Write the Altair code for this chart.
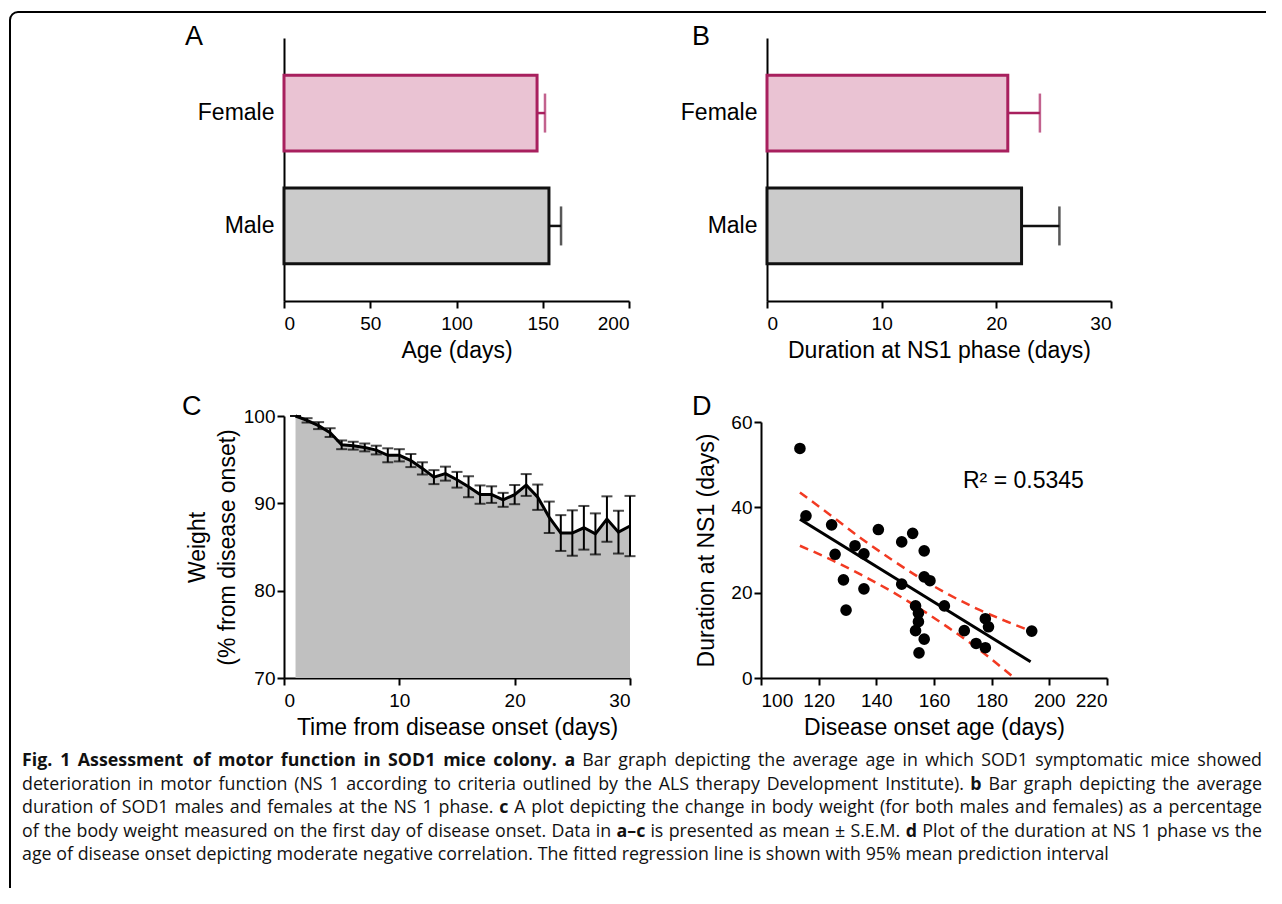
import altair as alt
import pandas as pd

# ---------------- data ----------------
sex = ["Female", "Male"]
onset_age_mean = [146.7, 153.6]
onset_age_sem = [4.6, 7.0]
ns1_days_mean = [21.0, 22.2]
ns1_days_sem = [2.8, 3.3]

days = list(range(1, 31))
weight_pct = [100.0, 99.5, 98.9, 98.1, 96.7, 96.6, 96.4, 96.1, 95.5, 95.5,
              94.9, 94.0, 93.0, 93.4, 92.7, 91.9, 91.0, 91.0, 90.4, 91.0,
              92.1, 90.7, 88.4, 86.6, 86.6, 87.2, 86.5, 88.2, 86.7, 87.4]
weight_sem = [0.0, 0.25, 0.4, 0.5, 0.5, 0.45, 0.45, 0.5, 0.8, 0.7,
              0.75, 0.7, 0.8, 0.8, 0.9, 1.2, 1.05, 0.95, 0.8, 1.1,
              1.25, 1.45, 1.8, 2.05, 2.6, 2.5, 2.35, 2.6, 2.45, 3.45]

onset_age = [113.5, 115.6, 124.5, 125.7, 128.6, 129.5, 132.6, 135.7, 135.7, 140.7,
             148.8, 148.8, 152.6, 156.6, 156.6, 158.6, 153.6, 154.6, 154.6, 153.6,
             156.6, 154.8, 163.6, 170.5, 174.6, 177.8, 177.8, 178.9, 193.9]
ns1_duration = [53.8, 38.0, 35.9, 29.0, 23.0, 15.9, 31.0, 29.1, 20.9, 34.8,
                31.9, 22.0, 33.9, 29.8, 23.7, 22.8, 16.9, 15.2, 13.2, 11.1,
                9.1, 5.9, 16.9, 11.1, 8.1, 7.1, 13.9, 12.0, 11.0]
fit_age = [113.5, 193.5]
fit_duration = [37.2, 3.8]
upper_age = [113.5, 125, 135, 145, 155, 165, 175, 185, 194]
upper_duration = [43.5, 37.7, 32.6, 27.9, 23.5, 19.6, 16.2, 13.3, 10.9]
lower_age = [113.5, 125, 135, 145, 155, 165, 175, 187]
lower_duration = [31.0, 27.5, 24.1, 20.4, 16.3, 11.8, 7.0, 0.5]
r_squared_label = ["R\u00b2 = 0.5345"]
panel_letters = ["A", "B", "C", "D"]

# caption lines; words between ** ** are bold
caption_lines = [
    "**Fig. 1 Assessment of motor function in SOD1 mice colony. a** Bar graph depicting the average age in which SOD1 symptomatic mice showed",
    "deterioration in motor function (NS 1 according to criteria outlined by the ALS therapy Development Institute). **b** Bar graph depicting the average",
    "duration of SOD1 males and females at the NS 1 phase. **c** A plot depicting the change in body weight (for both males and females) as a percentage",
    "of the body weight measured on the first day of disease onset. Data in **a\u2013c** is presented as mean \u00b1 S.E.M. **d** Plot of the duration at NS 1 phase vs the",
    "age of disease onset depicting moderate negative correlation. The fitted regression line is shown with 95% mean prediction interval",
]

# ---------------- style ----------------
FONT = "Liberation Sans"
CAP_FONT = "Open Sans"
CAP_SIZE = 17.8
F_STROKE, M_STROKE = "#a8205e", "#111111"
F_FILL, M_FILL = "#eac3d3", "#cbcbcb"
RED = "#f23a22"


def letter(text, dx, dy):
    return alt.Chart(pd.DataFrame({"t": [text]})).mark_text(
        font=FONT, fontSize=27, align="left", baseline="alphabetic", color="black"
    ).encode(text="t:N", x=alt.value(dx), y=alt.value(dy))


def bar_panel(means, sems, xmax, step, xtitle, let, let_dx, width, x_range=None, y_offset=0):
    df = pd.DataFrame({"sex": sex, "mean": means, "sem": sems})
    df["upper"] = df["mean"] + df["sem"]
    base = alt.Chart(df)
    xs = alt.Scale(domain=[0, xmax], nice=False)
    if x_range is not None:
        xs = alt.Scale(domain=[0, xmax], nice=False, range=x_range)
    yenc = alt.Y("sex:N", sort=sex, title=None,
                 scale=alt.Scale(domain=sex, paddingInner=0.33, paddingOuter=0.33),
                 axis=alt.Axis(ticks=False, labelFontSize=23, labelPadding=10,
                               labelLimit=300, offset=y_offset))
    xenc = alt.X("mean:Q", title=xtitle, scale=xs,
                 axis=alt.Axis(values=list(range(0, xmax + 1, step)), labelPadding=6,
                               titlePadding=6))
    fill = alt.Fill("sex:N", scale=alt.Scale(domain=sex, range=[F_FILL, M_FILL]), legend=None)
    stroke = alt.Stroke("sex:N", scale=alt.Scale(domain=sex, range=[F_STROKE, M_STROKE]), legend=None)
    col = alt.Color("sex:N", scale=alt.Scale(domain=sex, range=[F_STROKE, M_STROKE]), legend=None)
    err = base.mark_rule(strokeWidth=2.5).encode(x="mean:Q", x2="upper:Q", y=alt.Y("sex:N", sort=sex), stroke=stroke)
    cap = base.mark_tick(orient="vertical", size=39, thickness=2.5).encode(
        x="upper:Q", y=alt.Y("sex:N", sort=sex), color=col)
    bars = base.mark_bar(strokeWidth=3).encode(x=xenc, y=yenc, fill=fill, stroke=stroke)
    return alt.layer(err, cap, bars, letter(let, let_dx, 7)).resolve_scale(
        fill="independent", stroke="independent", color="independent"
    ).properties(width=width, height=263)


panel_a = bar_panel(onset_age_mean, onset_age_sem, 200, 50, "Age (days)", panel_letters[0], -99, 345)
panel_b = bar_panel(ns1_days_mean, ns1_days_sem, 30, 10, "Duration at NS1 phase (days)",
                    panel_letters[1], -69, 350, x_range=[6, 350], y_offset=-6)

# ---- panel C ----
wdf = pd.DataFrame({"day": days, "w": weight_pct, "sem": weight_sem})
wdf["lo"] = wdf["w"] - wdf["sem"]
wdf["hi"] = wdf["w"] + wdf["sem"]
wbase = alt.Chart(wdf)
cx = alt.X("day:Q", title="Time from disease onset (days)",
           scale=alt.Scale(domain=[0, 30], nice=False),
           axis=alt.Axis(values=[0, 10, 20, 30], labelPadding=6, titlePadding=6))
cy = alt.Y("w:Q", title=["Weight", "(% from disease onset)"],
           scale=alt.Scale(domain=[70, 100], nice=False, zero=False),
           axis=alt.Axis(values=[70, 80, 90, 100], labelPadding=2, titlePadding=4,
                         titleLineHeight=30))
c_area = wbase.mark_area(color="#c0c0c0", opacity=1).encode(x=cx, y=cy, y2=alt.datum(70))
c_line = wbase.mark_line(color="black", strokeWidth=3).encode(x="day:Q", y="w:Q")
c_err = wbase.mark_rule(color="black", strokeWidth=2).encode(x="day:Q", y="lo:Q", y2="hi:Q")
c_cap_lo = wbase.mark_tick(orient="horizontal", size=11, thickness=2, color="black").encode(x="day:Q", y="lo:Q")
c_cap_hi = wbase.mark_tick(orient="horizontal", size=11, thickness=2, color="black").encode(x="day:Q", y="hi:Q")
panel_c = alt.layer(c_area, c_line, c_err, c_cap_lo, c_cap_hi,
                    letter(panel_letters[2], -102, -1)).properties(width=346, height=262)

# ---- panel D ----
sdf = pd.DataFrame({"age": onset_age, "dur": ns1_duration})
dx = alt.X("age:Q", title="Disease onset age (days)",
           scale=alt.Scale(domain=[100, 220], nice=False, zero=False),
           axis=alt.Axis(values=list(range(100, 221, 20)), labelPadding=6, titlePadding=6))
dy = alt.Y("dur:Q", title="Duration at NS1 (days)",
           scale=alt.Scale(domain=[0, 60], nice=False, range=[262, 6]),
           axis=alt.Axis(values=[0, 20, 40, 60], labelPadding=2, titlePadding=12))
d_pts = alt.Chart(sdf).mark_circle(size=135, color="black", opacity=1).encode(x=dx, y=dy)
d_fit = alt.Chart(pd.DataFrame({"age": fit_age, "dur": fit_duration})).mark_line(
    color="black", strokeWidth=3).encode(x="age:Q", y="dur:Q")
d_up = alt.Chart(pd.DataFrame({"age": upper_age, "dur": upper_duration})).mark_line(
    color=RED, strokeWidth=2.5, strokeDash=[9, 6], interpolate="monotone").encode(x="age:Q", y="dur:Q")
d_lo = alt.Chart(pd.DataFrame({"age": lower_age, "dur": lower_duration})).mark_line(
    color=RED, strokeWidth=2.5, strokeDash=[9, 6], interpolate="monotone").encode(x="age:Q", y="dur:Q")
d_r2 = alt.Chart(pd.DataFrame({"t": r_squared_label})).mark_text(
    font=FONT, fontSize=23, align="left", baseline="alphabetic", color="black"
).encode(text="t:N", x=alt.value(202), y=alt.value(72))
panel_d = alt.layer(d_up, d_lo, d_fit, d_pts, d_r2,
                    letter(panel_letters[3], -69, -1)).properties(width=346, height=262)

# ---- caption (justified word layout) + figure frame ----
OX, OY = 284, 793          # page position of the caption cell origin
CAP_L, CAP_R = 22, 1262    # caption text block edges (page px)
CAP_Y0, CAP_LH = 761, 23.5  # first line centre, line spacing (page px)

REG_W = {' ': .26, 'a': .556, 'b': .613, 'c': .476, 'd': .613, 'e': .561, 'f': .339, 'g': .548,
         'h': .614, 'i': .253, 'j': .253, 'k': .525, 'l': .253, 'm': .930, 'n': .614, 'o': .604,
         'p': .613, 'q': .613, 'r': .408, 's': .477, 't': .353, 'u': .614, 'v': .501, 'w': .778,
         'x': .524, 'y': .502, 'z': .477, 'A': .633, 'B': .648, 'C': .631, 'D': .729, 'E': .556,
         'F': .516, 'I': .279, 'L': .519, 'M': .903, 'N': .764, 'O': .778, 'P': .602, 'S': .549,
         'T': .553, '.': .266, ',': .246, '(': .282, ')': .282, '%': .830, '\u00b1': .572,
         '\u2013': .5}
BOLD_W = {' ': .26, 'a': .59, 'b': .639, 'c': .515, 'd': .639, 'e': .597, 'f': .394, 'g': .564,
          'h': .659, 'i': .305, 'l': .305, 'm': .986, 'n': .659, 'o': .62, 'p': .639, 'r': .454,
          's': .515, 't': .429, 'u': .659, 'v': .575, 'w': .856, 'y': .579, 'A': .716, 'D': .751,
          'F': .581, 'O': .788, 'S': .575, '.': .293, '\u2013': .5}


def text_width(s, bold):
    table = BOLD_W if bold else REG_W
    return sum(table.get(ch, .572 if ch.isdigit() else .55) for ch in s) * CAP_SIZE


rows = []
for i, line in enumerate(caption_lines):
    words, bold = [], False
    for tok in line.split(" "):
        t = tok
        if t.startswith("**"):
            t, bold = t[2:], True
        closing = t.endswith("**")
        if closing:
            t = t[:-2]
        words.append((t, bold))
        if closing:
            bold = False
    widths = [text_width(t, b) for t, b in words]
    last_line = i == len(caption_lines) - 1
    gap = REG_W[' '] * CAP_SIZE if last_line else (CAP_R - CAP_L - sum(widths)) / (len(words) - 1)
    xpos = CAP_L
    for j, ((t, b), w) in enumerate(zip(words, widths)):
        is_end = (j == len(words) - 1) and not last_line
        rows.append({"word": t, "bold": b, "end": is_end,
                     "px": (CAP_R if is_end else xpos) - OX,
                     "py": CAP_Y0 + i * CAP_LH - OY})
        xpos += w + gap
cap_df = pd.DataFrame(rows)


def cap_layer(bold, end):
    return alt.Chart(cap_df).transform_filter(
        (alt.datum.bold == bold) & (alt.datum.end == end)
    ).mark_text(
        font=CAP_FONT, fontSize=CAP_SIZE, fontWeight="bold" if bold else "normal",
        align="right" if end else "left", baseline="middle", color="#111111"
    ).encode(x=alt.X("px:Q", scale=None, axis=None), y=alt.Y("py:Q", scale=None, axis=None),
             text="word:N")


cap_layers = [cap_layer(b, e) for b in (False, True) for e in (False, True)]

frame_df = pd.DataFrame({"k": [0]})
FR = 8
FL, FT, FRt, FB = 10 - OX, 12 - OY, 1266 - OX, 888 - OY
frame_left = alt.Chart(frame_df).mark_rule(color="black", strokeWidth=2).encode(
    x=alt.value(FL), y=alt.value(FT + FR), y2=alt.value(FB))
frame_top = alt.Chart(frame_df).mark_rule(color="black", strokeWidth=2).encode(
    x=alt.value(FL + FR), x2=alt.value(FRt), y=alt.value(FT))
frame_corner = alt.Chart(frame_df).mark_arc(
    innerRadius=FR - 1, outerRadius=FR + 1, theta=4.7124, theta2=6.2832, color="black"
).encode(x=alt.value(FL + FR), y=alt.value(FT + FR))

caption = alt.layer(frame_left, frame_top, frame_corner, *cap_layers).properties(width=300, height=10)

chart = alt.concat(
    panel_a, panel_b, panel_c, panel_d, caption,
    columns=2, spacing={"row": 115, "column": 131}, bounds="flush"
).properties(
    padding={"left": 1, "top": 3, "right": 0, "bottom": 0},
    background="white"
).configure_view(stroke=None).configure_axis(
    domainColor="black", domainWidth=2, tickColor="black", tickWidth=2, tickSize=7,
    labelFont=FONT, labelFontSize=19, labelColor="black",
    titleFont=FONT, titleFontSize=23, titleFontWeight="normal", titleColor="black",
    grid=False
)

chart.save("out.html", embed_options={"renderer": "svg", "actions": False})
